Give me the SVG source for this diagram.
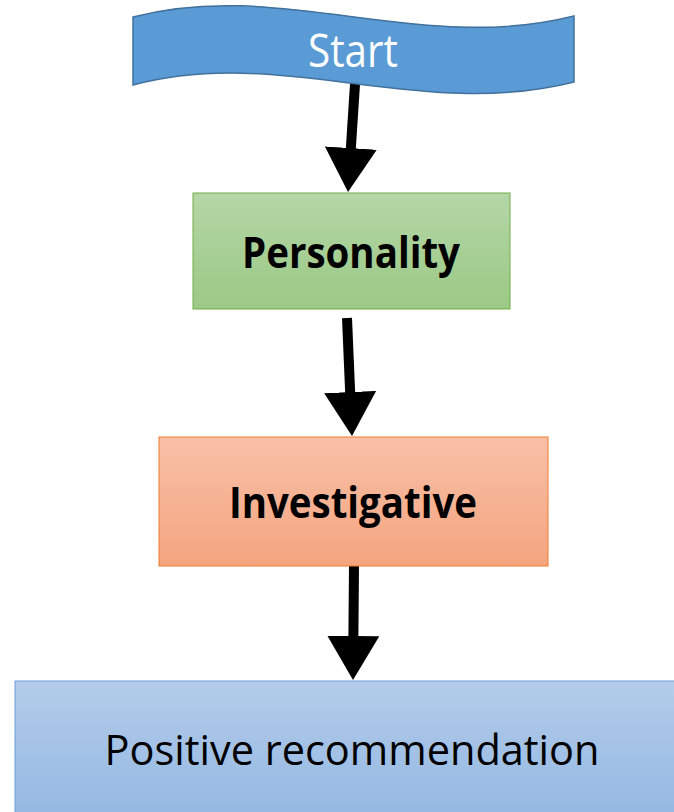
<svg xmlns="http://www.w3.org/2000/svg" width="674" height="812" viewBox="0 0 674 812">
  <style>
    .lbl { font-family: "Open Sans", "Noto Sans", sans-serif; text-anchor: middle; }
    .bold { font-weight: bold; fill: #000; }
    .arrow { stroke: #000; stroke-width: 10; fill: none; }
  </style>
  <defs>
    <linearGradient id="gGreen" x1="0" y1="0" x2="0" y2="1">
      <stop offset="0" stop-color="#B5D6A7"/>
      <stop offset="1" stop-color="#9BC985"/>
    </linearGradient>
    <linearGradient id="gOrange" x1="0" y1="0" x2="0" y2="1">
      <stop offset="0" stop-color="#F8C0A7"/>
      <stop offset="1" stop-color="#F4A47F"/>
    </linearGradient>
    <linearGradient id="gBlue" x1="0" y1="0" x2="0" y2="1">
      <stop offset="0" stop-color="#B3CCEA"/>
      <stop offset="1" stop-color="#93B7E2"/>
    </linearGradient>
    <!-- arrowhead: tip sits 10px past the end of the shaft -->
    <marker id="head" viewBox="0 0 44 52" markerUnits="userSpaceOnUse" markerWidth="44" markerHeight="52" refX="34" refY="26" orient="auto">
      <path d="M0,0 L44,26 L0,52 Z" fill="#000"/>
    </marker>
  </defs>

  <g id="connectors">
    <line class="arrow" x1="355" y1="84" x2="348.65" y2="182" marker-end="url(#head)"/>
    <line class="arrow" x1="347" y1="318" x2="351.58" y2="426" marker-end="url(#head)"/>
    <line class="arrow" x1="354" y1="566" x2="353.09" y2="670" marker-end="url(#head)"/>
  </g>

  <g id="start">
    <path d="M133,17 C280,-22 420,55 574,16 L574,82 C420,121 280,45 133,85 Z" fill="#5B9BD5" stroke="#41719C" stroke-width="1.5"/>
    <text class="lbl" x="353" y="67" font-size="45" fill="#fff" textLength="90" lengthAdjust="spacingAndGlyphs">Start</text>
  </g>

  <g id="personality">
    <rect x="193" y="193" width="317" height="116" fill="url(#gGreen)" stroke="#70AD47" stroke-width="1"/>
    <text class="lbl bold" x="351" y="268" font-size="43" textLength="218" lengthAdjust="spacingAndGlyphs">Personality</text>
  </g>

  <g id="investigative">
    <rect x="159" y="437" width="389" height="129" fill="url(#gOrange)" stroke="#ED7D31" stroke-width="1"/>
    <text class="lbl bold" x="353" y="518" font-size="43" textLength="248" lengthAdjust="spacingAndGlyphs">Investigative</text>
  </g>

  <g id="recommendation">
    <rect x="15" y="681" width="670" height="140" fill="url(#gBlue)" stroke="#6D9DD6" stroke-width="1"/>
    <text class="lbl" x="352" y="765" font-size="42" fill="#000" textLength="495" lengthAdjust="spacingAndGlyphs">Positive recommendation</text>
  </g>
</svg>
